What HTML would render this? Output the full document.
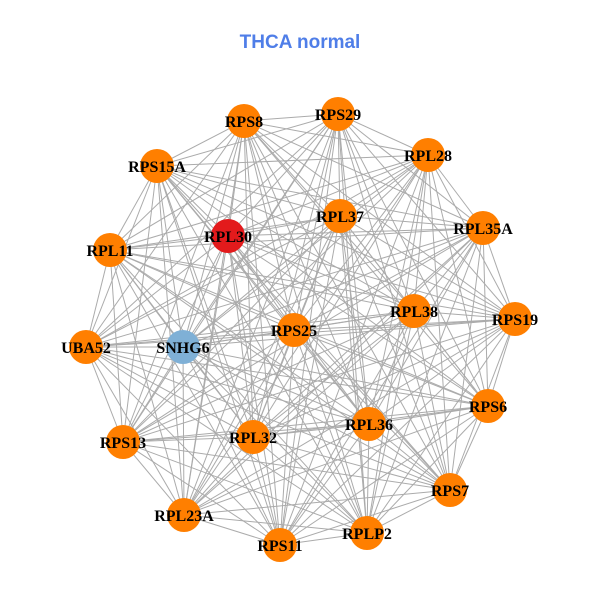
<!DOCTYPE html>
<html><head><meta charset="utf-8"><style>
html,body{margin:0;padding:0;background:#fff;}
svg{display:block;}
</style></head><body>
<svg id="s" width="600" height="600" xmlns="http://www.w3.org/2000/svg">
<rect width="600" height="600" fill="#fff"/>
<text x="300" y="48" text-anchor="middle" font-family="Liberation Sans, sans-serif" font-weight="bold" font-size="19" fill="#4f7ee8">THCA normal</text>
<g id="edges" stroke="#ababab" stroke-width="1"></g>
<g id="nodes"></g>
<g font-family="Liberation Serif, serif" font-weight="bold" font-size="16" fill="#000" text-anchor="middle">
<text x="244" y="127">RPS8</text>
<text x="338" y="120">RPS29</text>
<text x="428" y="161">RPL28</text>
<text x="157" y="172">RPS15A</text>
<text x="340" y="222">RPL37</text>
<text x="483" y="234">RPL35A</text>
<text x="228" y="242">RPL30</text>
<text x="110" y="256">RPL11</text>
<text x="414" y="317">RPL38</text>
<text x="515" y="325">RPS19</text>
<text x="294" y="336">RPS25</text>
<text x="183" y="353">SNHG6</text>
<text x="86" y="353">UBA52</text>
<text x="488" y="412">RPS6</text>
<text x="369" y="430">RPL36</text>
<text x="253" y="443">RPL32</text>
<text x="123" y="448">RPS13</text>
<text x="450" y="496">RPS7</text>
<text x="184" y="521">RPL23A</text>
<text x="367" y="539">RPLP2</text>
<text x="280" y="551">RPS11</text>
</g>
</svg>
<script>
var N=[[244,121],[338,114],[428,155],[157,166],[340,216],[483,228],[228,236],[110,250],[414,311],[515,319],[294,330],[183,347],[86,347],[488,406],[369,424],[253,437],[123,442],[450,490],[184,515],[367,533],[280,545]];
var ns="http://www.w3.org/2000/svg",E=document.getElementById("edges"),G=document.getElementById("nodes");
for(var i=0;i<N.length;i++)for(var j=i+1;j<N.length;j++){var l=document.createElementNS(ns,"line");l.setAttribute("x1",N[i][0]);l.setAttribute("y1",N[i][1]);l.setAttribute("x2",N[j][0]);l.setAttribute("y2",N[j][1]);E.appendChild(l);}
for(var i=0;i<N.length;i++){var c=document.createElementNS(ns,"circle");c.setAttribute("cx",N[i][0]);c.setAttribute("cy",N[i][1]);c.setAttribute("r",17);c.setAttribute("fill",i==6?"#e31a1c":(i==11?"#7fb0d6":"#ff7f00"));G.appendChild(c);}
</script>
</body></html>
